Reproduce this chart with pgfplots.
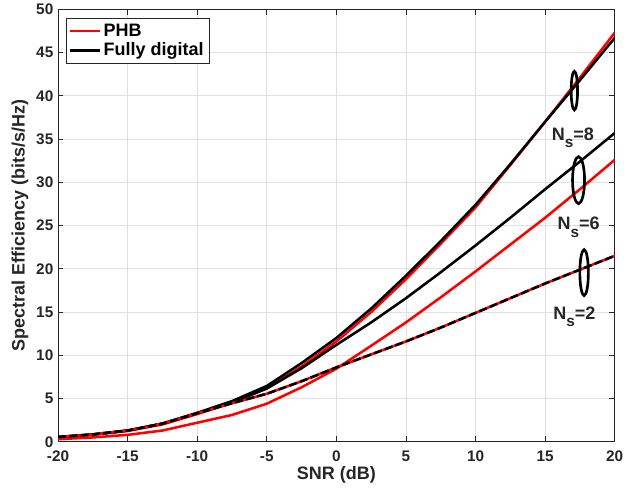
\documentclass[border=0pt]{standalone}
\usepackage{fontspec}
\setmainfont{Liberation Sans}
\usepackage{pgfplots}
\usepackage{pgfplotstable}
\pgfplotsset{compat=1.18}

% Spectral efficiency (bits/s/Hz) versus SNR (dB)
\pgfplotstableread{
snr  phb8  fd8   phb6  fd6   ns2
-20  0.50  0.55  0.30  0.55  0.55
-17.5 0.80 0.85  0.50  0.85  0.85
-15  1.25  1.30  0.80  1.30  1.30
-12.5 2.00 2.10  1.30  2.10  2.10
-10  3.20  3.35  2.20  3.30  3.30
-7.5 4.50  4.70  3.10  4.55  4.45
-5   6.20  6.45  4.40  6.15  5.55
-2.5 8.70  9.10  6.30  8.50  7.00
0    11.6  12.0  8.45  11.2  8.60
2.5  15.0  15.4  11.1  13.8  10.1
5    18.8  19.2  13.8  16.6  11.6
7.5  22.9  23.2  16.7  19.6  13.2
10   27.1  27.4  19.7  22.7  14.9
12.5 32.0  32.1  22.8  25.9  16.6
15   37.0  37.0  25.9  29.2  18.3
17.5 42.1  41.8  29.2  32.4  19.9
20   47.3  46.7  32.6  35.7  21.5
}\se

\definecolor{axgray}{gray}{0.15}
\definecolor{gridgray}{gray}{0.88}

\newcommand{\Ns}[1]{N\raisebox{-0.75ex}{\fontsize{11.5}{13}\selectfont s}=#1}

\begin{document}
\begin{tikzpicture}
\begin{axis}[
  scale only axis,
  width=417.5pt, height=324.3pt,
  xmin=-20, xmax=20, ymin=0, ymax=50,
  xtick={-20,-15,...,20}, ytick={0,5,...,50},
  grid=major,
  major grid style={draw=gridgray, line width=0.5pt},
  axis line style={draw=axgray, line width=0.6pt},
  tick style={draw=axgray, line width=0.6pt},
  tick align=inside, major tick length=4pt,
  /pgf/number format/assume math mode=true,
  ticklabel style={font=\bfseries\fontsize{11.5}{13}\selectfont, text=axgray},
  xticklabel style={yshift=-3pt},
  xlabel={SNR (dB)},
  ylabel={Spectral Efficiency (bits/s/Hz)},
  label style={font=\bfseries\fontsize{13.5}{15}\selectfont, text=axgray},
  xlabel style={yshift=3pt},
  ylabel style={yshift=-1pt},
  legend cell align=left,
  legend style={
    at={(rel axis cs:0.0144,0.98)}, anchor=north west,
    draw=axgray, line width=0.6pt, fill=white,
    font=\bfseries\fontsize{13.5}{15}\selectfont,
    inner xsep=2pt, inner ysep=2pt, row sep=-0.5pt,
  },
  legend image code/.code={\draw[#1, line width=1.9pt] (0pt,0pt) -- (22pt,0pt);},
]
% N_s = 8
\addplot[red, line width=1.9pt] table[x=snr, y=phb8] {\se};
\addlegendentry{PHB}
\addplot[black, line width=1.9pt] table[x=snr, y=fd8] {\se};
\addlegendentry{Fully digital}
% N_s = 6
\addplot[red, line width=1.9pt, forget plot] table[x=snr, y=phb6] {\se};
\addplot[black, line width=1.9pt, forget plot] table[x=snr, y=fd6] {\se};
% N_s = 2: both schemes coincide
\addplot[red, line width=1.9pt, forget plot] table[x=snr, y=ns2] {\se};
\addplot[black, line width=1.9pt, dash pattern=on 6pt off 2.5pt, forget plot] table[x=snr, y=ns2] {\se};

% stream-count annotations
\draw[black, line width=2pt] (axis cs:17.1,40.6) ellipse [x radius=2.4pt, y radius=14.5pt];
\draw[black, line width=2pt] (axis cs:17.4,30.25) ellipse [x radius=4.5pt, y radius=17.6pt];
\draw[black, line width=2pt] (axis cs:17.8,19.56) ellipse [x radius=3.2pt, y radius=17.2pt];
\begin{scope}[every node/.style={font=\bfseries\fontsize{13.5}{15}\selectfont, text=axgray}]
\node at (axis cs:17.0,35.1) {\Ns{8}};
\node at (axis cs:17.4,24.8) {\Ns{6}};
\node at (axis cs:17.1,14.5) {\Ns{2}};
\end{scope}
\end{axis}
\pgfresetboundingbox
\path[use as bounding box]
  ([shift={(-43.5pt,-37.7pt)}]current axis.south west) rectangle
  ([shift={(21.2pt,7pt)}]current axis.north east);
\end{tikzpicture}
\end{document}
